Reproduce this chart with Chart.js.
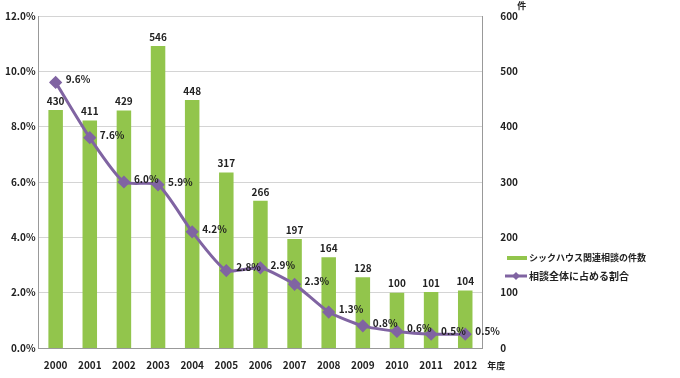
<!DOCTYPE html>
<html>
<head>
<meta charset="utf-8">
<script src="https://cdn.jsdelivr.net/npm/chart.js@4"></script>
<style>
  body { margin: 0; background: #fff; }
  #wrap { width: 680px; height: 378px; }
</style>
</head>
<body>
<div id="wrap"><canvas id="combo"></canvas></div>
<script>
var years = ['2000', '2001', '2002', '2003', '2004', '2005', '2006', '2007', '2008', '2009', '2010', '2011', '2012'];
var cases = [430, 411, 429, 546, 448, 317, 266, 197, 164, 128, 100, 101, 104];
var share = [9.6, 7.6, 6.0, 5.9, 4.2, 2.8, 2.9, 2.3, 1.3, 0.8, 0.6, 0.5, 0.5];
var caseLabel = 'シックハウス関連相談の件数';
var shareLabel = '相談全体に占める割合';

var green = 'rgb(146,197,76)';
var purple = 'rgb(128,100,162)';
var jp = '"Noto Sans CJK JP", "Noto Sans", sans-serif';

// value labels, unit labels and the legend on the right
var extras = {
    id: 'extras',
    afterDatasetsDraw: function (chart) {
        var c = chart.ctx;
        c.save();
        c.fillStyle = '#222';
        c.font = 'bold 10px ' + jp;
        c.textBaseline = 'bottom';
        c.textAlign = 'center';
        chart.getDatasetMeta(0).data.forEach(function (bar, i) {
            c.fillText(cases[i], bar.x, bar.y - 4);
        });
        c.textAlign = 'left';
        c.textBaseline = 'middle';
        chart.getDatasetMeta(1).data.forEach(function (pt, i) {
            c.fillText(share[i].toFixed(1) + '%', pt.x + 10, pt.y - 3);
        });

        var ca = chart.chartArea;
        c.font = 'bold 9px ' + jp;
        c.fillText('件', ca.right + 35, 6);
        c.fillText('年度', ca.right + 5, chart.scales.x.bottom - 8);

        // legend
        var lx = 507;
        c.fillStyle = green;
        c.fillRect(lx, 256, 20, 4);
        c.fillStyle = '#222';
        c.font = 'bold 9px ' + jp;
        c.fillText(caseLabel, lx + 22, 258);
        c.strokeStyle = purple;
        c.lineWidth = 3;
        c.beginPath();
        c.moveTo(lx - 2, 276);
        c.lineTo(lx + 20, 276);
        c.stroke();
        c.fillStyle = purple;
        c.beginPath();
        c.moveTo(lx + 9, 272);
        c.lineTo(lx + 13, 276);
        c.lineTo(lx + 9, 280);
        c.lineTo(lx + 5, 276);
        c.fill();
        c.fillStyle = '#222';
        c.font = 'bold 10px ' + jp;
        c.fillText(shareLabel, lx + 22, 276);
        c.restore();
    }
};

var ctx = document.getElementById('combo').getContext('2d');
var myChart = new Chart(ctx, {
    data: {
        labels: years,
        datasets: [{
            type: 'bar',
            label: caseLabel,
            data: cases,
            yAxisID: 'yCount',
            backgroundColor: green,
            barPercentage: 0.5,
            categoryPercentage: 0.85,
            order: 2
        }, {
            type: 'line',
            label: shareLabel,
            data: share,
            yAxisID: 'yRate',
            borderColor: purple,
            backgroundColor: purple,
            borderWidth: 3,
            pointStyle: 'rectRot',
            pointRadius: 4.5,
            tension: 0.2,
            order: 1
        }]
    },
    options: {
        responsive: true,
        maintainAspectRatio: false,
        animation: false,
        layout: { padding: { top: 4, right: 152, left: 2, bottom: 4 } },
        plugins: {
            legend: { display: false },
            tooltip: { enabled: false }
        },
        scales: {
            x: {
                grid: { display: false },
                border: { color: '#999' },
                ticks: { color: '#222', font: { family: jp, size: 10, weight: 'bold' } }
            },
            yRate: {
                position: 'left',
                min: 0,
                max: 12,
                ticks: {
                    stepSize: 2,
                    color: '#222',
                    font: { family: jp, size: 10, weight: 'bold' },
                    callback: function (v) { return v.toFixed(1) + '%'; }
                },
                grid: { color: '#d4d4d4', drawTicks: false },
                border: { color: '#999' }
            },
            yCount: {
                position: 'right',
                min: 0,
                max: 600,
                ticks: {
                    stepSize: 100,
                    color: '#222',
                    padding: 10,
                    font: { family: jp, size: 10, weight: 'bold' }
                },
                grid: { display: false },
                border: { color: '#999' }
            }
        }
    },
    plugins: [extras]
});
</script>
</body>
</html>
